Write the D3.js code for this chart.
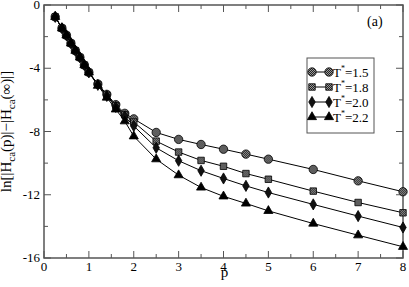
<!DOCTYPE html>
<html>
<head>
<meta charset="utf-8">
<script src="https://d3js.org/d3.v7.min.js"></script>
<style>
  body { margin: 0; background: white; overflow: hidden; }
  svg text { font-family: 'Liberation Serif', 'Times New Roman', Times, 'DejaVu Serif', serif; }
</style>
</head>
<body>
<script>
var pValues = [0.25, 0.4, 0.5, 0.6, 0.7, 0.8, 0.9, 1.0, 1.2, 1.4, 1.6, 1.8, 2.0, 2.5, 3, 3.5, 4, 4.5, 5, 6, 7, 8];
var early = [-0.75, -1.47, -1.92, -2.42, -2.89, -3.31, -3.8, -4.26];
var t15 = early.concat([-5.0, -5.65, -6.3, -6.85, -7.2, -8.06, -8.5, -8.82, -9.12, -9.43, -9.75, -10.4, -11.12, -11.81]);
var t18 = early.concat([-5.02, -5.7, -6.38, -6.95, -7.4, -8.61, -9.3, -9.83, -10.2, -10.66, -11.02, -11.77, -12.49, -13.14]);
var t20 = early.concat([-5.05, -5.75, -6.45, -7.05, -7.65, -9.03, -9.85, -10.48, -10.97, -11.44, -11.86, -12.61, -13.35, -14.07]);
var t22 = early.concat([-5.1, -5.85, -6.6, -7.35, -8.3, -9.75, -10.76, -11.54, -12.1, -12.55, -13.02, -13.82, -14.56, -15.29]);
var seriesLabels = ["1.5", "1.8", "2.0", "2.2"];
var xTicks = [0, 1, 2, 3, 4, 5, 6, 7, 8];
var yTicks = [0, -4, -8, -12, -16];

var series = [
  { label: seriesLabels[0], values: t15, shape: "circle" },
  { label: seriesLabels[1], values: t18, shape: "square" },
  { label: seriesLabels[2], values: t20, shape: "diamond" },
  { label: seriesLabels[3], values: t22, shape: "triangle" }
];

var serif = "'Liberation Serif', 'Times New Roman', Times, 'DejaVu Serif', serif";
var outerWidth = 409, outerHeight = 287;
var margin = { left: 44, top: 5, right: 6, bottom: 29 };
var innerWidth = outerWidth - margin.left - margin.right;
var innerHeight = outerHeight - margin.top - margin.bottom;

var svg = d3.select("body").append("svg")
  .attr("width", outerWidth)
  .attr("height", outerHeight)
  .attr("font-family", serif)
  .style("display", "block");

// hatch pattern for circles / squares
var defs = svg.append("defs");
var pat = defs.append("pattern")
  .attr("id", "hatch")
  .attr("width", 2).attr("height", 2)
  .attr("patternUnits", "userSpaceOnUse");
pat.append("rect").attr("width", 2).attr("height", 2).attr("fill", "#222");
pat.append("rect").attr("width", 1).attr("height", 1).attr("fill", "#999");
pat.append("rect").attr("x", 1).attr("y", 1).attr("width", 1).attr("height", 1).attr("fill", "#999");

var g = svg.append("g")
  .attr("transform", `translate(${margin.left},${margin.top})`);

var x = d3.scaleLinear().domain([0, 8]).range([0, innerWidth]);
var y = d3.scaleLinear().domain([-16, 0]).range([innerHeight, 0]);

var axisColor = "#555";
var xMinor = d3.range(0, 8.01, 0.5);
var yMinor = d3.range(-16, 0.01, 2);

function tickSize(isMajor) { return isMajor ? 7 : 4; }

// frame
g.append("rect")
  .attr("width", innerWidth).attr("height", innerHeight)
  .attr("fill", "none").attr("stroke", axisColor).attr("stroke-width", 1.5);

// ticks on all four sides, pointing inward
xMinor.forEach(function(v) {
  var len = tickSize(v % 1 === 0);
  g.append("line").attr("x1", x(v)).attr("x2", x(v)).attr("y1", innerHeight).attr("y2", innerHeight - len)
    .attr("stroke", axisColor);
  g.append("line").attr("x1", x(v)).attr("x2", x(v)).attr("y1", 0).attr("y2", len)
    .attr("stroke", axisColor);
});
yMinor.forEach(function(v) {
  var len = tickSize(v % 4 === 0);
  g.append("line").attr("x1", 0).attr("x2", len).attr("y1", y(v)).attr("y2", y(v))
    .attr("stroke", axisColor);
  g.append("line").attr("x1", innerWidth).attr("x2", innerWidth - len).attr("y1", y(v)).attr("y2", y(v))
    .attr("stroke", axisColor);
});

g.selectAll(".xlab").data(xTicks).enter().append("text")
  .attr("x", d => x(d)).attr("y", innerHeight + 13)
  .attr("text-anchor", "middle").attr("font-size", 13)
  .text(d => d);

g.selectAll(".ylab").data(yTicks).enter().append("text")
  .attr("x", -4).attr("y", d => y(d) + 4)
  .attr("text-anchor", "end").attr("font-size", 13)
  .text(d => d === 0 ? "0" : "-" + Math.abs(d));

// axis titles
g.append("text")
  .attr("x", innerWidth / 2 + 1).attr("y", innerHeight + 19)
  .attr("text-anchor", "middle").attr("font-size", 15)
  .text("p");

var yt = g.append("text")
  .attr("transform", `translate(${-33},${innerHeight / 2}) rotate(-90)`)
  .attr("text-anchor", "middle").attr("font-size", 15);
yt.append("tspan").text("ln[|H");
yt.append("tspan").attr("font-size", 11).attr("dy", 4).text("ca");
yt.append("tspan").attr("dy", -4).text("(p)|\u2212|H");
yt.append("tspan").attr("font-size", 11).attr("dy", 4).text("ca");
yt.append("tspan").attr("dy", -4).text("(\u221E)|]");

g.append("text")
  .attr("x", x(7.2)).attr("y", y(-1.3))
  .attr("font-size", 14)
  .text("(a)");

// markers
var symbolTypes = {
  circle: d3.symbol().type(d3.symbolCircle).size(55),
  square: d3.symbol().type(d3.symbolSquare).size(42),
  diamond: d3.symbol().type(d3.symbolDiamond).size(36),
  triangle: d3.symbol().type(d3.symbolTriangle).size(36)
};
var symbolFill = { circle: "url(#hatch)", square: "url(#hatch)", diamond: "#111", triangle: "#000" };

var line = d3.line()
  .x(d => x(d.p))
  .y(d => y(d.v));

series.forEach(function(s) {
  var pts = pValues.map((p, i) => ({ p: p, v: s.values[i] }));
  g.append("path")
    .datum(pts)
    .attr("d", line)
    .attr("fill", "none").attr("stroke", "#000").attr("stroke-width", 1);
});
series.forEach(function(s) {
  var pts = pValues.map((p, i) => ({ p: p, v: s.values[i] }));
  g.selectAll(null).data(pts).enter().append("path")
    .attr("d", symbolTypes[s.shape])
    .attr("transform", d => `translate(${x(d.p)},${y(d.v)})`)
    .attr("fill", symbolFill[s.shape])
    .attr("stroke", "#000").attr("stroke-width", 0.8);
});

// legend
var lg = svg.append("g").attr("transform", "translate(307,58)");
lg.append("rect").attr("width", 67).attr("height", 75)
  .attr("fill", "white").attr("stroke", "#555").attr("stroke-width", 1);
series.forEach(function(s, i) {
  var ry = 14 + i * 15;
  lg.append("line").attr("x1", 5).attr("x2", 22).attr("y1", ry).attr("y2", ry)
    .attr("stroke", "#000");
  [5, 22].forEach(function(cx) {
    lg.append("path").attr("d", symbolTypes[s.shape])
      .attr("transform", `translate(${cx},${ry})`)
      .attr("fill", symbolFill[s.shape]).attr("stroke", "#000").attr("stroke-width", 0.8);
  });
  var t = lg.append("text").attr("x", 26).attr("y", ry + 5).attr("font-size", 13);
  t.append("tspan").text("T");
  t.append("tspan").attr("font-size", 8).attr("dy", -6).text("*");
  t.append("tspan").attr("dy", 6).text("=" + s.label);
});
</script>
</body>
</html>
